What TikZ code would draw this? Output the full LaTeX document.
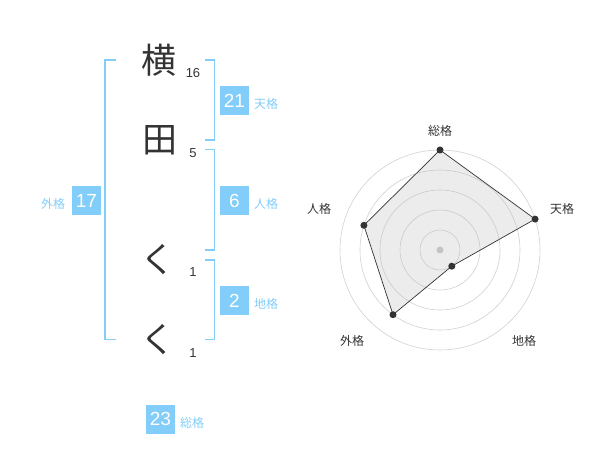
\documentclass[tikz,border=0pt]{standalone}
\usepackage{fontspec}
\setmainfont{Liberation Sans}
\newfontfamily\jp{Noto Sans CJK JP}
\definecolor{skyb}{HTML}{82CDF9}
\definecolor{ink}{HTML}{333333}
\tikzset{
  bigchar/.style={font=\jp\fontsize{35}{35}\selectfont, text=ink, inner sep=0pt},
  strokenum/.style={font=\fontsize{13}{13}\selectfont, text=ink, inner sep=0pt},
  numbox/.style={fill=skyb, text=white, minimum width=29pt, minimum height=29pt, inner sep=0pt, font=\fontsize{19}{19}\selectfont},
  kakulabel/.style={font=\jp\fontsize{12}{12}\selectfont, text=skyb, inner sep=0pt},
  bracket/.style={draw=skyb, line width=1.6pt},
  ring/.style={draw=black!18, line width=0.6pt},
  radlabel/.style={font=\jp\fontsize{12}{12}\selectfont, text=ink, inner sep=0pt},
  dot/.style={circle, fill=ink, minimum size=7pt, inner sep=0pt},
}
\begin{document}
\begin{tikzpicture}[x=1pt,y=-1pt]
\useasboundingbox (0,0) rectangle (600,470);
% characters
\node[bigchar] (c1) at (159,60) {横};
\node[bigchar] (c2) at (160,140) {田};
\node[bigchar] (c3) at (158,260) {く};
\node[bigchar] (c4) at (158,340) {く};
\node[strokenum] (n1) at (193,73) {16};
\node[strokenum] (n2) at (193,153) {5};
\node[strokenum] (n3) at (193,272) {1};
\node[strokenum] (n4) at (193,353) {1};
% brackets
\draw[bracket] (115.5,60) -- (105,60) -- (105,339.5) -- (115.5,339.5);
\draw[bracket] (205,60) -- (214.5,60) -- (214.5,140) -- (205,140);
\draw[bracket] (205,149.5) -- (214.5,149.5) -- (214.5,250) -- (205,250);
\draw[bracket] (205,260) -- (214.5,260) -- (214.5,339.5) -- (205,339.5);
% boxes
\node[numbox] (b21) at (234.5,100.5) {21};
\node[kakulabel] (l21) at (266,104) {天格};
\node[numbox] (b6) at (234.5,200.5) {6};
\node[kakulabel] (l6) at (266,204) {人格};
\node[numbox] (b2) at (234.5,300.5) {2};
\node[kakulabel] (l2) at (266,304) {地格};
\node[numbox] (b17) at (86.5,200.5) {17};
\node[kakulabel] (l17) at (53,204) {外格};
\node[numbox] (b23) at (160.5,419) {23};
\node[kakulabel] (l23) at (192,423) {総格};
% radar
\coordinate (o) at (440,250);
\foreach \r in {20,40,60,80,100} \draw[ring] (o) circle[radius=\r];
\fill[black!22] (o) circle[radius=3.5];
\coordinate (p1) at (440,150);
\coordinate (p2) at (535.1,219.1);
\coordinate (p3) at (451.8,266.2);
\coordinate (p4) at (393.0,314.7);
\coordinate (p5) at (363.9,225.3);
\fill[black!25, opacity=0.3] (p1) -- (p2) -- (p3) -- (p4) -- (p5) -- cycle;
\draw[ink, line width=0.7pt] (p1) -- (p2) -- (p3) -- (p4) -- (p5) -- cycle;
\foreach \p in {p1,p2,p3,p4,p5} \node[dot] at (\p) {};
\node[radlabel] (r1) at (440,131) {総格};
\node[radlabel] (r2) at (562,209) {天格};
\node[radlabel] (r3) at (524,341) {地格};
\node[radlabel] (r4) at (352,341) {外格};
\node[radlabel] (r5) at (319,209) {人格};
\end{tikzpicture}
\end{document}
